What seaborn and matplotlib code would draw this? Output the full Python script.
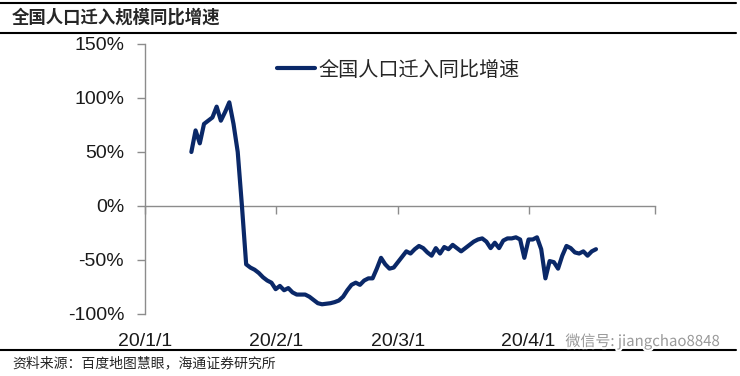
import matplotlib
matplotlib.use("Agg")
import matplotlib.pyplot as plt
import matplotlib.dates as mdates
import matplotlib.patheffects as pe
from matplotlib.lines import Line2D
import seaborn as sns
import pandas as pd

# ---------------- data ----------------
title = "全国人口迁入规模同比增速"
series_name = "全国人口迁入同比增速"
source = "资料来源：百度地图慧眼，海通证券研究所"
watermark = "微信号: jiangchao8848"

start_date = "2020-01-12"
growth = [
    50, 70, 58, 76, 79, 82, 92, 79, 87, 96, 76, 50,
    0, -54, -57, -59, -62, -66, -69, -71, -77, -74, -78, -76,
    -80, -82, -82, -82, -84, -87, -90, -91, -90.5, -90, -89, -87.5,
    -84, -78, -73, -71, -73, -69, -67, -67, -58, -48, -54, -58,
    -57, -52, -47, -42, -44, -40, -37, -39, -43, -46, -39, -44,
    -38, -40, -36, -39, -42, -39, -36, -33, -31, -30, -33, -39,
    -34, -39, -32, -30, -30, -29, -31, -48, -31, -31, -29, -40,
    -67, -51, -52, -58, -46, -37, -39, -43, -44, -42, -46, -42, -40,
]
x_tick_dates = ["2020-01-01", "2020-02-01", "2020-03-01", "2020-04-01"]
x_tick_labels = ["20/1/1", "20/2/1", "20/3/1", "20/4/1"]
x_limits = ["2020-01-01", "2020-05-01"]
y_ticks = [-100, -50, 0, 50, 100, 150]
y_tick_labels = ["-100%", "-50%", "0%", "50%", "100%", "150%"]

# ---------------- style ----------------
navy = "#0a2868"
gray = "#8c8c8c"
sns.set_style("white")
plt.rcParams["font.family"] = ["Liberation Sans", "Noto Sans CJK SC", "DejaVu Sans"]
cjk = ["Noto Sans CJK SC", "DejaVu Sans"]

W, H = 740, 376
fig = plt.figure(figsize=(W / 100, H / 100), dpi=100)
ax = fig.add_axes([145 / W, 1 - 314 / H, 510 / W, 270 / H])

dates = pd.date_range(start_date, periods=len(growth), freq="D")
df = pd.DataFrame({"date": dates, "value": growth})
sns.lineplot(data=df, x="date", y="value", color=navy, linewidth=3.0,
             label=series_name, ax=ax)

ymin, ymax = y_ticks[0], y_ticks[-1]
ax.set_ylim(ymin, ymax)
ax.set_xlim(pd.Timestamp(x_limits[0]), pd.Timestamp(x_limits[1]))
ax.set_xlabel("")
ax.set_ylabel("")

# y axis
ax.set_yticks(y_ticks)
ax.set_yticklabels(y_tick_labels)
ax.tick_params(axis="y", direction="out", length=6, width=1, color=gray,
               pad=9, labelsize=14, labelcolor="#1a1a1a", left=True)
for s in ["top", "right", "bottom"]:
    ax.spines[s].set_visible(False)
ax.spines["left"].set_color(gray)
ax.spines["left"].set_linewidth(1)

# x tick labels at the bottom of the plot
tick_ts = [pd.Timestamp(d) for d in x_tick_dates]
ax.set_xticks(tick_ts)
ax.set_xticklabels(x_tick_labels)
ax.tick_params(axis="x", length=0, pad=14, labelsize=14, labelcolor="#1a1a1a")

# x axis line on zero with tick marks
zero_frac = (0 - ymin) / (ymax - ymin)
sec = ax.secondary_xaxis(zero_frac)
sec.set_xticks([mdates.date2num(t) for t in tick_ts] + [mdates.date2num(pd.Timestamp(x_limits[1]))])
sec.tick_params(axis="x", direction="out", length=5.5, width=1, color=gray,
                labelbottom=False, labeltop=False)
for s in sec.spines.values():
    s.set_color(gray)
    s.set_linewidth(1)

# legend
leg = ax.legend(loc="center left", bbox_to_anchor=((277 - 145) / 510, (314 - 70) / 270),
                frameon=False, handlelength=1.9, handletextpad=0.15,
                borderaxespad=0, borderpad=0, prop={"family": cjk, "size": 14.5})

# title, rules, source
fig.add_artist(Line2D([0, 0.995], [1 - 2.5 / H] * 2, color="black", lw=1.5))
fig.add_artist(Line2D([0, 0.995], [1 - 33 / H] * 2, color="black", lw=1.5))
fig.add_artist(Line2D([0, 0.995], [1 - 350 / H] * 2, color="black", lw=1.5))
fig.text(12 / W, 1 - 18 / H, title, fontsize=12.5, fontweight="bold",
         family=cjk, va="center", ha="left")
fig.text(12 / W, 1 - 363 / H, source, fontsize=10, family=cjk,
         va="center", ha="left")

# watermark (kept clear of the last tick label)
fig.text(720 / W, 1 - 341 / H, watermark, fontsize=10.8, family=cjk,
         color="#9a9a9a", va="center", ha="right",
         path_effects=[pe.withStroke(linewidth=3, foreground="white")])

fig.savefig("out.png", dpi=100)
